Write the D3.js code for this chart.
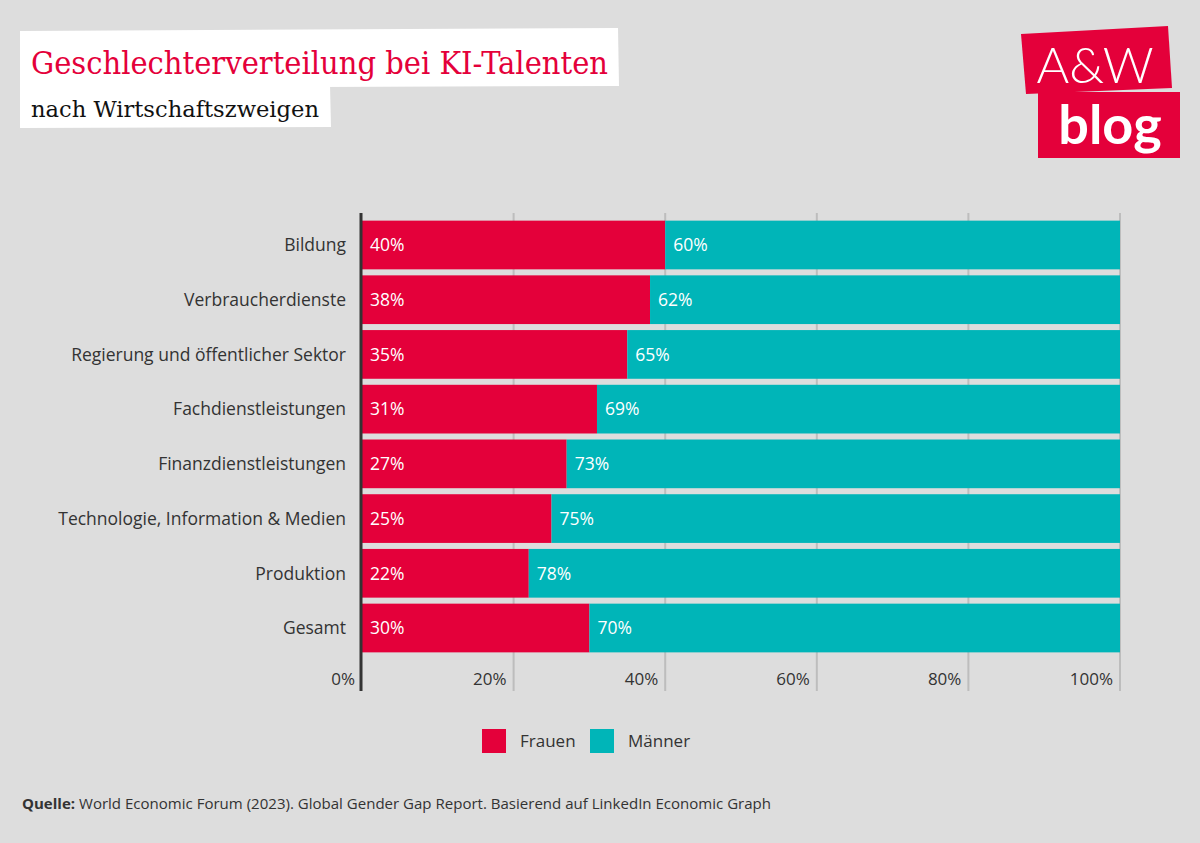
<!DOCTYPE html>
<html><head><meta charset="utf-8">
<script src="https://cdn.jsdelivr.net/npm/d3@7"></script>
<style>body{margin:0;background:#dddddd;}svg{display:block;}</style>
</head><body>
<script>
const categories = ["Bildung","Verbraucherdienste","Regierung und öffentlicher Sektor","Fachdienstleistungen","Finanzdienstleistungen","Technologie, Information & Medien","Produktion","Gesamt"];
const frauen = [40,38,35,31,27,25,22,30];
const maenner = [60,62,65,69,73,75,78,70];
const tickValues = [0,20,40,60,80,100];
const seriesNames = ["Frauen","Männer"];
const colors = ["#e4003a","#00b5b8"];

const W=1200,H=843;
const svg=d3.select("body").append("svg").attr("width",W).attr("height",H);
svg.append("rect").attr("width",W).attr("height",H).attr("fill","#dddddd");

// Title boxes
svg.append("path").attr("d","M20,31 L618,28 L619,86 L20,88 Z").attr("fill","#fff");
svg.append("path").attr("d","M20,86 L330,85 L331,127 L20,128 Z").attr("fill","#fff");
svg.append("text").attr("x",31).attr("y",74).text("Geschlechterverteilung bei KI-Talenten")
  .attr("font-family","'DejaVu Serif Condensed','DejaVu Serif',serif").attr("font-size",31).attr("fill","#e4003a").attr("textLength",577).attr("lengthAdjust","spacingAndGlyphs");
svg.append("text").attr("x",31).attr("y",117).text("nach Wirtschaftszweigen")
  .attr("font-family","'DejaVu Serif Condensed','DejaVu Serif',serif").attr("font-size",23).attr("fill","#111").attr("textLength",288).attr("lengthAdjust","spacingAndGlyphs");

// Logo
svg.append("path").attr("d","M1021,34 L1168,26 L1172,88 L1026,94 Z").attr("fill","#e4003a");
svg.append("path").attr("d","M1038,92 L1180,92 L1180,158 L1038,158 Z").attr("fill","#e4003a");
svg.append("text").attr("x",1095).attr("y",83).attr("text-anchor","middle").text("A&W")
  .attr("font-family","Lato,'Open Sans',sans-serif").attr("font-size",50).attr("fill","#fff").attr("font-weight",300);
svg.append("text").attr("x",1110).attr("y",144).attr("text-anchor","middle").text("blog")
  .attr("font-family","Lato,'Open Sans',sans-serif").attr("font-size",54).attr("fill","#fff").attr("font-weight",700);

const x=d3.scaleLinear().domain([0,100]).range([362,1120]);
const y=d3.scaleBand().domain(categories).range([219,654]).paddingInner(0.11).paddingOuter(0.03);

const font="'Open Sans','Noto Sans',sans-serif";
// grid
svg.append("g").selectAll("line").data(tickValues.slice(1)).join("line")
  .attr("x1",d=>x(d)).attr("x2",d=>x(d)).attr("y1",213).attr("y2",691)
  .attr("stroke","#bdbdbd").attr("stroke-width",2);

const rows=svg.append("g").selectAll("g").data(categories).join("g");
rows.append("rect").attr("x",x(0)).attr("y",d=>y(d)).attr("height",y.bandwidth())
  .attr("width",(d,i)=>x(frauen[i])-x(0)).attr("fill",colors[0]);
rows.append("rect").attr("x",(d,i)=>x(frauen[i])).attr("y",d=>y(d)).attr("height",y.bandwidth())
  .attr("width",(d,i)=>x(100)-x(frauen[i])).attr("fill",colors[1]);
rows.append("text").attr("x",x(0)+8).attr("y",d=>y(d)+y.bandwidth()/2).attr("dy","0.36em")
  .text((d,i)=>frauen[i]+"%").attr("fill","#fff").attr("font-family",font).attr("font-size",17.5);
rows.append("text").attr("x",(d,i)=>x(frauen[i])+8).attr("y",d=>y(d)+y.bandwidth()/2).attr("dy","0.36em")
  .text((d,i)=>maenner[i]+"%").attr("fill","#fff").attr("font-family",font).attr("font-size",17.5);
rows.append("text").attr("x",346).attr("y",d=>y(d)+y.bandwidth()/2).attr("dy","0.36em").attr("text-anchor","end")
  .text(d=>d).attr("fill","#333").attr("font-family",font).attr("font-size",17.5);

// axis line
svg.append("line").attr("x1",x(0)-1).attr("x2",x(0)-1).attr("y1",213).attr("y2",691).attr("stroke","#333").attr("stroke-width",3);

// tick labels
svg.append("g").selectAll("text").data(tickValues).join("text")
  .attr("x",d=>x(d)-7).attr("y",679).attr("dy","0.36em").attr("text-anchor","end")
  .text(d=>d+"%").attr("fill","#333").attr("font-family",font).attr("font-size",17);

// legend
const lg=svg.append("g");
const lx=[482,590];
seriesNames.forEach((s,i)=>{
  lg.append("rect").attr("x",lx[i]).attr("y",729).attr("width",24).attr("height",24).attr("fill",colors[i]);
  lg.append("text").attr("x",lx[i]+38).attr("y",741).attr("dy","0.36em").text(s)
    .attr("fill","#333").attr("font-family",font).attr("font-size",17);
});

// source
const src=svg.append("text").attr("x",22).attr("y",809).attr("font-family","'Open Sans','Liberation Sans Narrow',sans-serif").attr("font-size",15).attr("fill","#333")
  .attr("textLength",749).attr("lengthAdjust","spacingAndGlyphs");
src.append("tspan").attr("font-weight",700).text("Quelle:");
src.append("tspan").text(" World Economic Forum (2023). Global Gender Gap Report. Basierend auf LinkedIn Economic Graph");
</script>
</body></html>
